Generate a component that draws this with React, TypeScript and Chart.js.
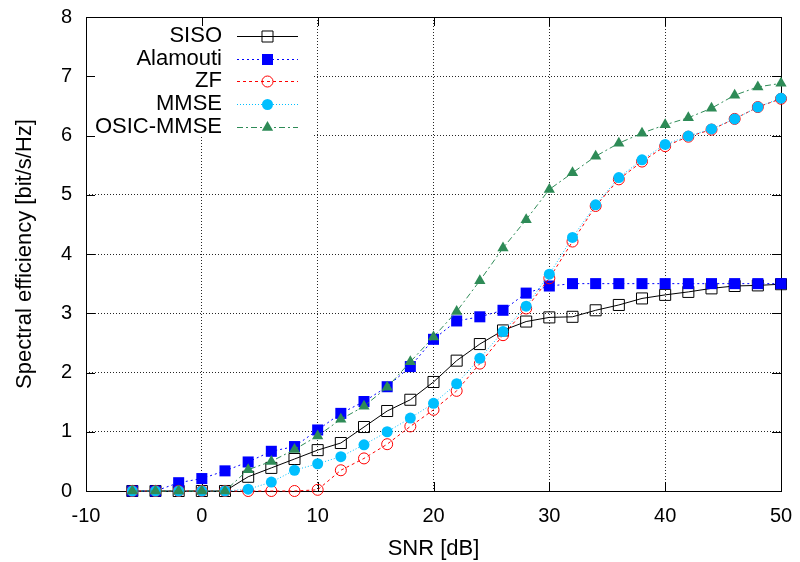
import React, { useEffect, useRef } from 'react';
import { Chart, registerables } from 'chart.js';

Chart.register(...registerables);

// ---------- data ----------
const snr = [-6, -4, -2, 0, 2, 4, 6, 8, 10, 12, 14, 16, 18, 20, 22, 24, 26, 28, 30, 32, 34, 36, 38, 40, 42, 44, 46, 48, 50];
const siso = [0, 0, 0, 0, 0, 0.24, 0.39, 0.54, 0.69, 0.81, 1.08, 1.35, 1.54, 1.84, 2.2, 2.48, 2.71, 2.86, 2.93, 2.94, 3.05, 3.14, 3.25, 3.31, 3.36, 3.42, 3.46, 3.47, 3.49];
const alamouti = [0, 0, 0.14, 0.21, 0.34, 0.49, 0.67, 0.75, 1.03, 1.31, 1.51, 1.76, 2.1, 2.56, 2.87, 2.94, 3.05, 3.34, 3.46, 3.5, 3.5, 3.5, 3.5, 3.5, 3.5, 3.5, 3.5, 3.5, 3.5];
const zf = [0, 0, 0, 0, 0, 0, 0, 0, 0.02, 0.35, 0.55, 0.79, 1.09, 1.37, 1.69, 2.15, 2.63, 3.08, 3.59, 4.21, 4.81, 5.26, 5.56, 5.82, 5.98, 6.1, 6.28, 6.48, 6.62];
const mmse = [0, 0, 0, 0, 0, 0.03, 0.15, 0.35, 0.46, 0.58, 0.78, 1.0, 1.23, 1.48, 1.81, 2.24, 2.69, 3.12, 3.66, 4.28, 4.83, 5.29, 5.59, 5.85, 5.99, 6.11, 6.28, 6.48, 6.63];
const osic = [0, 0, 0, 0, 0, 0.36, 0.5, 0.7, 0.93, 1.21, 1.43, 1.75, 2.18, 2.6, 3.03, 3.55, 4.1, 4.58, 5.09, 5.37, 5.65, 5.87, 6.04, 6.18, 6.3, 6.46, 6.68, 6.82, 6.88];

const seriesLabels = ['SISO', 'Alamouti', 'ZF', 'MMSE', 'OSIC-MMSE'];
const seriesValues = [siso, alamouti, zf, mmse, osic];

const xTitle = 'SNR [dB]';
const yTitle = 'Spectral efficiency [bit/s/Hz]';

// ---------- styles ----------
const FONT = "'Liberation Sans', Arial, Helvetica, sans-serif";
type Style = { color: string; dash: number[]; point: string; radius: number; filled: boolean };
const styles: Style[] = [
  { color: '#000000', dash: [], point: 'rect', radius: 7.8, filled: false },
  { color: '#0000ff', dash: [2, 3], point: 'rect', radius: 7.8, filled: true },
  { color: '#ff0000', dash: [3, 3], point: 'circle', radius: 5.5, filled: false },
  { color: '#00bfff', dash: [1, 2], point: 'circle', radius: 5.5, filled: true },
  { color: '#2e8b57', dash: [6, 3, 2, 3], point: 'triangle', radius: 6.5, filled: true },
];

function drawMarker(ctx: CanvasRenderingContext2D, s: Style, x: number, y: number) {
  const r = s.radius;
  ctx.save();
  ctx.setLineDash([]);
  ctx.beginPath();
  if (s.point === 'rect') {
    const h = r * Math.SQRT1_2;
    ctx.rect(x - h, y - h, 2 * h, 2 * h);
  } else if (s.point === 'circle') {
    ctx.arc(x, y, r, 0, Math.PI * 2);
  } else {
    let a = 0;
    ctx.moveTo(x + Math.sin(a) * r, y - Math.cos(a) * r);
    a += (2 * Math.PI) / 3;
    ctx.lineTo(x + Math.sin(a) * r, y - Math.cos(a) * r);
    a += (2 * Math.PI) / 3;
    ctx.lineTo(x + Math.sin(a) * r, y - Math.cos(a) * r);
    ctx.closePath();
  }
  if (s.filled) {
    ctx.fillStyle = s.color;
    ctx.fill();
  } else {
    ctx.strokeStyle = s.color;
    ctx.lineWidth = 1;
    ctx.stroke();
  }
  ctx.restore();
}

const TICK_LEN = 9;
const LEGEND_BOX_RIGHT = 312;
const LEGEND_BOX_BOTTOM = 137;

const framePlugin = {
  id: 'gnuFrame',
  beforeDatasetsDraw(chart: any) {
    const { ctx, chartArea: a, scales } = chart;
    ctx.save();
    // opaque key background
    ctx.fillStyle = '#ffffff';
    ctx.fillRect(a.left, a.top, LEGEND_BOX_RIGHT - a.left, LEGEND_BOX_BOTTOM - a.top);
    // frame
    ctx.strokeStyle = '#000';
    ctx.lineWidth = 1;
    ctx.setLineDash([]);
    ctx.strokeRect(a.left + 0.5, a.top + 0.5, a.right - a.left, a.bottom - a.top);
    // inward ticks on all sides
    ctx.beginPath();
    for (const t of scales.x.ticks) {
      const px = Math.round(scales.x.getPixelForValue(t.value)) + 0.5;
      ctx.moveTo(px, a.bottom);
      ctx.lineTo(px, a.bottom - TICK_LEN);
      ctx.moveTo(px, a.top);
      ctx.lineTo(px, a.top + TICK_LEN);
    }
    for (const t of scales.y.ticks) {
      const py = Math.round(scales.y.getPixelForValue(t.value)) + 0.5;
      ctx.moveTo(a.left, py);
      ctx.lineTo(a.left + TICK_LEN, py);
      ctx.moveTo(a.right, py);
      ctx.lineTo(a.right - TICK_LEN, py);
    }
    ctx.stroke();
    ctx.restore();
  },
  afterDatasetsDraw(chart: any) {
    const { ctx } = chart;
    ctx.save();
    seriesLabels.forEach((label, i) => {
      const s = styles[i];
      const y = 35.8 + 22.8 * i;
      ctx.font = `22px ${FONT}`;
      ctx.fillStyle = '#000';
      ctx.textAlign = 'right';
      ctx.textBaseline = 'middle';
      ctx.fillText(label, 222, y);
      ctx.strokeStyle = s.color;
      ctx.lineWidth = 1;
      ctx.setLineDash(s.dash);
      ctx.beginPath();
      ctx.moveTo(237, Math.round(y) + 0.5);
      ctx.lineTo(298, Math.round(y) + 0.5);
      ctx.stroke();
      drawMarker(ctx, s, 267.5, Math.round(y) + 0.5);
    });
    ctx.restore();
  },
};

export default function App() {
  const ref = useRef<HTMLCanvasElement | null>(null);

  useEffect(() => {
    if (!ref.current) return;
    const datasets = seriesLabels.map((label, i) => {
      const s = styles[i];
      return {
        label,
        data: snr.map((x, j) => ({ x, y: seriesValues[i][j] })),
        borderColor: s.color,
        borderWidth: 1,
        borderDash: s.dash,
        backgroundColor: s.color,
        pointStyle: s.point,
        pointRadius: s.radius,
        pointHoverRadius: s.radius,
        pointBackgroundColor: s.filled ? s.color : 'rgba(0,0,0,0)',
        pointBorderColor: s.color,
        pointBorderWidth: s.filled ? 0 : 1,
        fill: false,
        tension: 0,
        clip: false,
        order: seriesLabels.length - i,
      };
    });

    const gridOpts = { color: 'rgba(0,0,0,0.85)', lineWidth: 1, drawTicks: false };
    const chart = new Chart(ref.current, {
      type: 'line',
      data: { datasets: datasets as any },
      options: {
        responsive: false,
        animation: false,
        events: [],
        layout: { padding: { left: 0, top: 17, right: 19, bottom: 0 } },
        plugins: { legend: { display: false }, tooltip: { enabled: false } },
        scales: {
          x: {
            type: 'linear',
            min: -10,
            max: 50,
            ticks: { stepSize: 10, padding: 13, color: '#000', font: { family: FONT, size: 20 } },
            grid: gridOpts,
            border: { display: false, dash: [1, 2] },
            title: { display: true, text: xTitle, color: '#000', font: { family: FONT, size: 22 }, padding: 0 },
            afterFit: (s: any) => {
              s.height = 71;
              s.paddingLeft = 0;
              s.paddingRight = 0;
            },
          },
          y: {
            type: 'linear',
            min: 0,
            max: 8,
            ticks: { stepSize: 1, padding: 14, color: '#000', font: { family: FONT, size: 20 } },
            grid: gridOpts,
            border: { display: false, dash: [1, 2] },
            title: { display: true, text: yTitle, color: '#000', font: { family: FONT, size: 22 }, padding: { top: 12, bottom: 0 } },
            afterFit: (s: any) => {
              s.width = 86;
              s.paddingTop = 0;
              s.paddingBottom = 0;
            },
          },
        },
      } as any,
      plugins: [framePlugin],
    });
    return () => chart.destroy();
  }, []);

  return (
    <div style={{ position: 'absolute', left: 0, top: 0, width: 800, height: 562, background: '#fff' }}>
      <canvas ref={ref} width={800} height={562} style={{ display: 'block', width: 800, height: 562 }} />
    </div>
  );
}
